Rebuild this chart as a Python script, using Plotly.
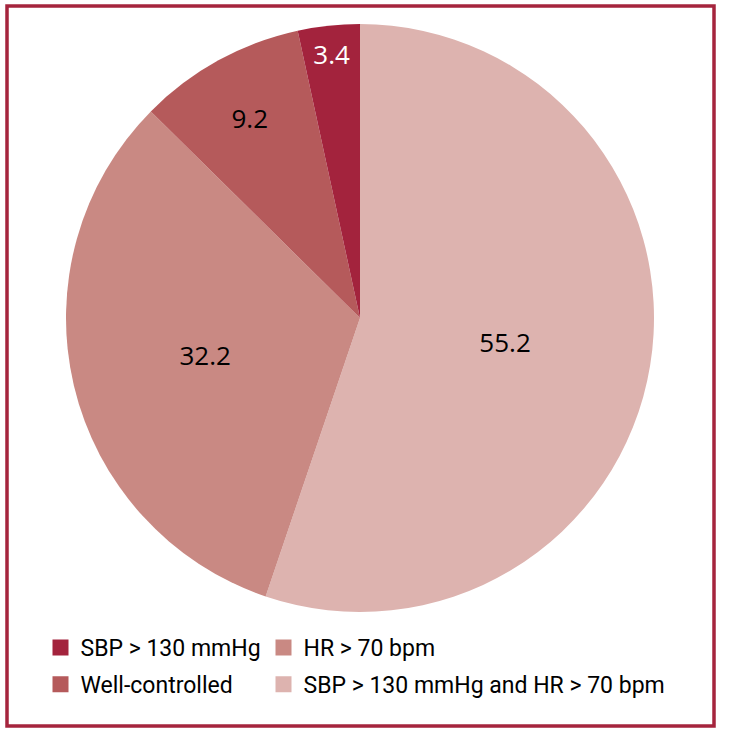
import plotly.graph_objects as go

# slices, clockwise from 12 o'clock
labels = ['SBP > 130 mmHg and HR > 70 bpm', 'HR > 70 bpm', 'Well-controlled', 'SBP > 130 mmHg']
values = [55.2, 32.2, 9.2, 3.4]
colors = ['#DDB3AF', '#C98983', '#B55A5B', '#A3233D']
text_colors = ['black', 'black', 'black', 'white']

# legend columns (left, right)
legend_col1 = ['SBP > 130 mmHg', 'Well-controlled']
legend_col2 = ['HR > 70 bpm', 'SBP > 130 mmHg and HR > 70 bpm']

fig = go.Figure()

fig.add_trace(go.Pie(
    labels=labels,
    values=values,
    sort=False,
    direction='clockwise',
    rotation=0,
    marker=dict(colors=colors, line=dict(width=0)),
    texttemplate='%{value:.1f}',
    textposition='inside',
    insidetextorientation='horizontal',
    insidetextfont=dict(size=26, color=text_colors, family='Open Sans'),
    showlegend=False,
    hoverinfo='label+value',
    domain=dict(x=[66 / 730, 654 / 730], y=[1 - 612 / 740, 1 - 24 / 740]),
))

# legend entries (square swatches), two separate legends = two columns
for leg, names in [('legend', legend_col1), ('legend2', legend_col2)]:
    for name in names:
        fig.add_trace(go.Scatter(
            x=[None], y=[None],
            mode='markers',
            name=name,
            legend=leg,
            legendgroup=name,
            marker=dict(symbol='square', size=16, color=colors[labels.index(name)]),
        ))

leg_style = dict(
    orientation='v',
    y=1 - 626 / 740,
    xanchor='left', yanchor='top',
    itemwidth=30,
    font=dict(size=23, family='Roboto', color='black'),
    tracegroupgap=4,
    bgcolor='rgba(0,0,0,0)',
)

fig.update_layout(
    width=730,
    height=740,
    margin=dict(l=0, r=0, t=0, b=0),
    paper_bgcolor='white',
    plot_bgcolor='white',
    font=dict(family='Roboto', color='black'),
    xaxis=dict(visible=False),
    yaxis=dict(visible=False),
    legend=dict(x=40.5 / 730, **leg_style),
    legend2=dict(x=263.5 / 730, **leg_style),
    shapes=[dict(
        type='rect', xref='paper', yref='paper',
        x0=7 / 730, x1=714 / 730, y0=1 - 726 / 740, y1=1 - 6 / 740,
        line=dict(color='#A5243D', width=3.5),
    )],
)

fig.write_html('out.html', config={'displayModeBar': False},
               post_script="document.body.style.margin='0';")
